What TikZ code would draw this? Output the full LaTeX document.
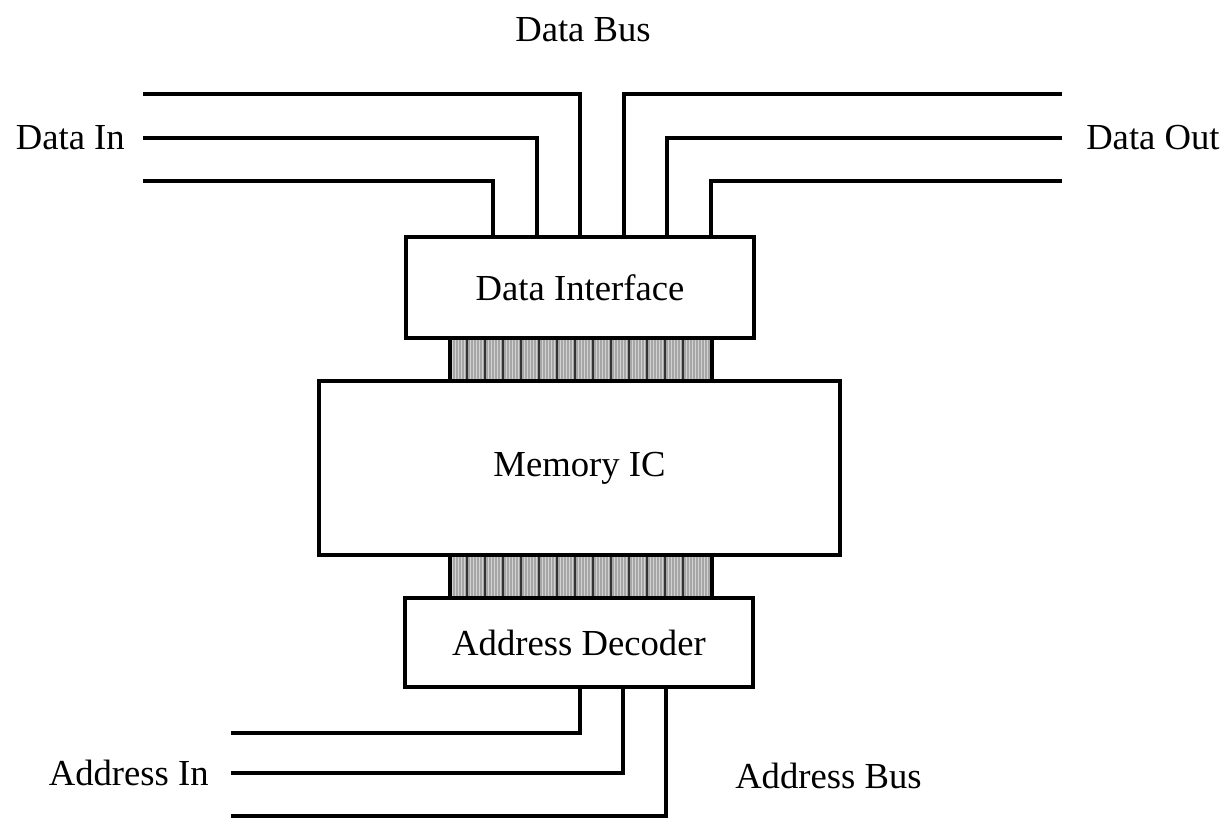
\documentclass[tikz,border=0pt]{standalone}
\usepackage{fontspec}
\setmainfont{Liberation Serif}
\usetikzlibrary{positioning}

\begin{document}
\begin{tikzpicture}[x=0.75pt,y=0.75pt,yscale=-1,xscale=1,
  bus/.style={line width=3pt},
  box/.style={draw,line width=3pt,inner sep=0pt,font=\fontsize{27.5}{33}\selectfont},
  lbl/.style={inner sep=0pt,font=\fontsize{27.5}{33}\selectfont}]

\useasboundingbox (0,0) rectangle (1229,819);

% striped links between the blocks
\foreach \y in {338,555}{
  \fill[gray!70] (450,\y) rectangle (712,\y+43);
  \foreach \x in {452,455,...,710} \draw[gray!35,line width=0.7pt] (\x,\y) -- (\x,\y+43);
  \foreach \x in {467,485,...,700} \draw[black!80,line width=0.9pt] (\x,\y) -- (\x,\y+43);
  \draw[line width=3pt] (450,\y) -- (450,\y+43) (712,\y) -- (712,\y+43);
}

\node[box,minimum width=261pt,minimum height=75.75pt] (di) at (580,287.5) {Data Interface};

\node[box,minimum width=390.75pt,minimum height=130.5pt] (mem) at (579.5,468) {Memory IC};

\node[box,minimum width=261pt,minimum height=66.75pt] (ad) at (579,642.5) {Address Decoder};

\node[lbl] (databus) at (583,30) {Data Bus};
\node[lbl,anchor=east] (datain) at (125,138) {Data In};
\node[lbl,anchor=west] (dataout) at (1086,138) {Data Out};
\node[lbl,anchor=east] (addrin) at (209,773) {Address In};
\node[lbl,anchor=west] (addrbus) at (735,776) {Address Bus};

% data lines
\coordinate (din1) at (143,94);
\coordinate (din2) at (143,138);
\coordinate (din3) at (143,181);
\coordinate (dout1) at (1062,94);
\coordinate (dout2) at (1062,138);
\coordinate (dout3) at (1062,181);

\draw[bus] (din1) -| (di.north -| 580,0);
\draw[bus] (din2) -| (di.north -| 537,0);
\draw[bus] (din3) -| (di.north -| 493,0);
\draw[bus] (dout1) -| (di.north -| 624,0);
\draw[bus] (dout2) -| (di.north -| 667,0);
\draw[bus] (dout3) -| (di.north -| 711,0);

% address lines
\coordinate (ain1) at (231,733);
\coordinate (ain2) at (231,773);
\coordinate (ain3) at (231,816);

\draw[bus] (ain1) -| (ad.south -| 580,0);
\draw[bus] (ain2) -| (ad.south -| 623,0);
\draw[bus] (ain3) -| (ad.south -| 666,0);

\end{tikzpicture}
\end{document}
